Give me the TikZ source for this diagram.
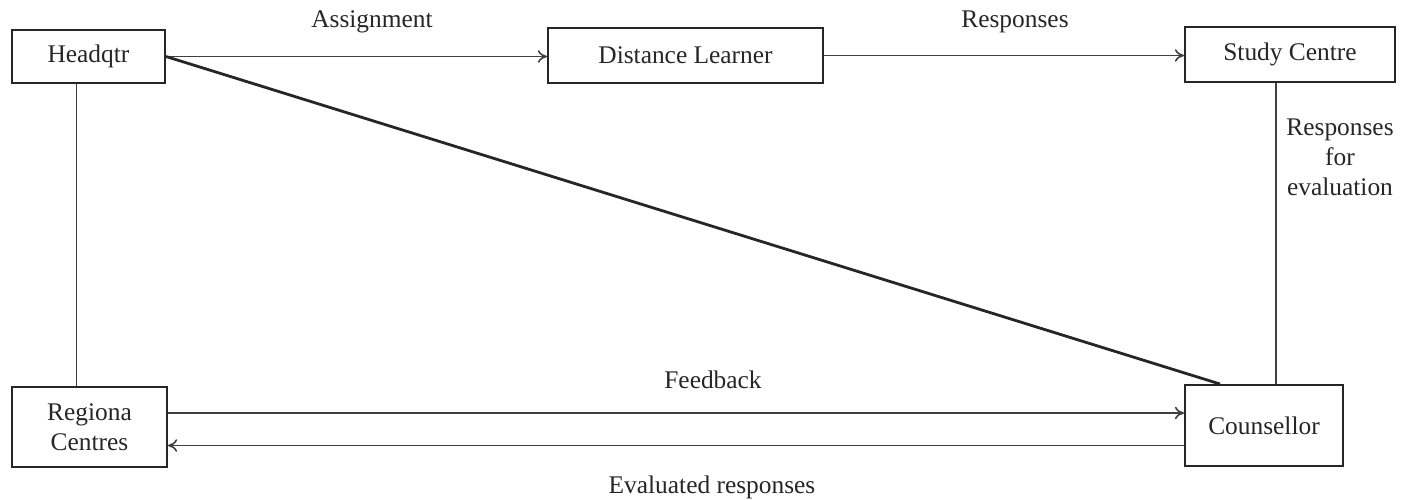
\documentclass[tikz,border=0pt]{standalone}
\usepackage{fontspec}
\setmainfont{Liberation Serif}
\usetikzlibrary{arrows.meta}

\begin{document}
\begin{tikzpicture}[x=0.5pt,y=-0.5pt,
    every node/.style={font=\fontsize{12.7}{15}\selectfont,text=black!85},
    box/.style={draw=black!85,line width=1pt,inner sep=0pt},
    link/.style={draw=black!75,line width=0.8pt},
    arr/.style={link,-{To[length=1.6mm,width=2.2mm]}}]
  \useasboundingbox (0,0) rectangle (1417,499);
  \node[box,minimum width=76.5pt,minimum height=26.5pt] (hq) at (88.5,56.5) {Headqtr};
  \node[box,minimum width=137.5pt,minimum height=27.5pt] (dl) at (685.5,55.5) {Distance Learner};
  \node[box,minimum width=105pt,minimum height=27.5pt] (sc) at (1290,54.5) {Study Centre};
  \node[box,minimum width=77.5pt,minimum height=40pt,align=center] (rc) at (89.5,427) {Regiona\\Centres};
  \node[box,minimum width=79pt,minimum height=40.5pt] (cn) at (1264,425.5) {Counsellor};
  \node (assign) at (372,22) {Assignment};
  \node (resp) at (1015,22) {Responses};
  \node[align=center] (reval) at (1340,157) {Responses\\for\\evaluation};
  \node (feed) at (713,380) {Feedback};
  \node (evalr) at (712,487) {Evaluated responses};
  \draw[arr] (hq.east) -- (hq.east -| dl.west);
  \draw[arr] (dl.east) -- (dl.east -| sc.west);
  \draw[link] ([xshift=-6pt]hq.south) -- ([xshift=-6pt]hq.south |- rc.north);
  \draw[link] ([xshift=-7pt]sc.south) -- ([xshift=-7pt]sc.south |- cn.north);
  \draw[black!85,line width=1.4pt] (hq.east) -- ([xshift=-22pt]cn.north);
  \draw[arr] ([yshift=7pt]rc.east) -- ([yshift=7pt]rc.east -| cn.west);
  \draw[arr] ([yshift=-10pt]cn.west) -- ([yshift=-10pt]cn.west -| rc.east);
\end{tikzpicture}
\end{document}
